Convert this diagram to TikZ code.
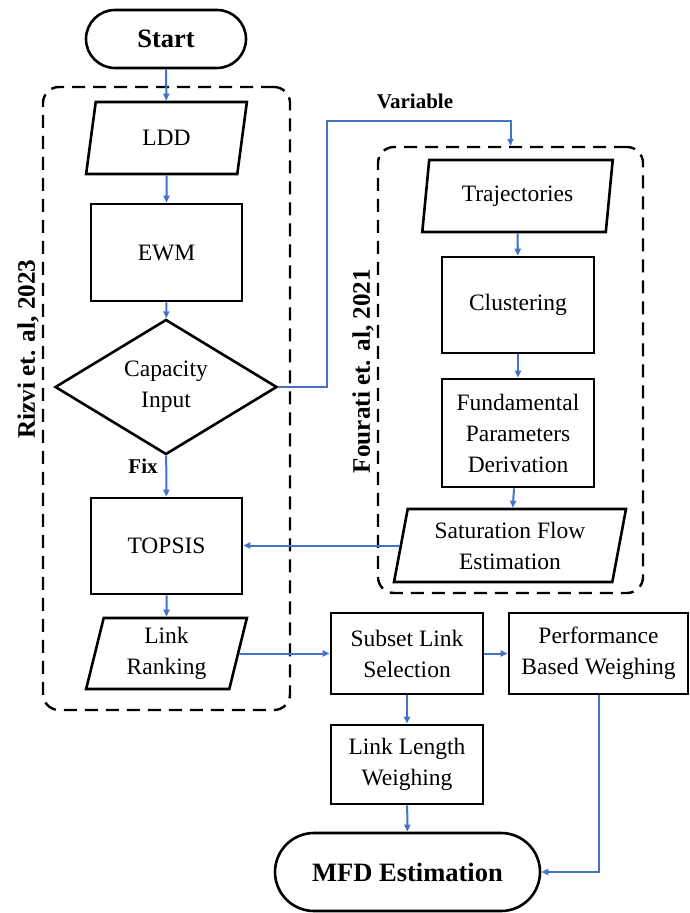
\documentclass[tikz,border=0pt]{standalone}
\usepackage{fontspec}
\setmainfont{Liberation Serif}
\usetikzlibrary{shapes.geometric,shapes.misc,arrows.meta}
\definecolor{flowblue}{RGB}{68,114,196}

\begin{document}
\begin{tikzpicture}[x=0.5pt,y=-0.5pt,
  every node/.style={font=\rmfamily\fontsize{11.75}{15.5}\selectfont, align=center, inner sep=0pt},
  proc/.style={draw, line width=1.3pt, rectangle},
  io/.style={draw, line width=1.3pt, trapezium, trapezium left angle=78,
    trapezium right angle=102, trapezium stretches=true},
  term/.style={draw, line width=1.3pt, rounded rectangle,
    font=\rmfamily\fontsize{13.25}{16}\selectfont\bfseries},
  decide/.style={draw, line width=1.3pt, diamond},
  group/.style={draw, dash pattern=on 6.5pt off 4pt, line width=1.2pt,
    rounded corners=8pt, rectangle},
  flow/.style={draw=flowblue, line width=1pt, -{Triangle[length=3.5pt,width=3pt]}},
  tag/.style={font=\rmfamily\fontsize{10.5}{12}\selectfont\bfseries},
  ref/.style={font=\rmfamily\fontsize{12.6}{14}\selectfont\bfseries, rotate=90}
]
\useasboundingbox[fill=white] (0,0) rectangle (689,913);

% dashed groups for the two methods
\node[group, minimum width=123.5pt, minimum height=311.5pt] (rizvibox) at (166.5,398.5) {};
\node[group, minimum width=132.5pt, minimum height=223pt] (fouratibox) at (510.5,370) {};
\node[ref] (rizvi) at (28,349) {Rizvi et. al, 2023};
\node[ref] (fourati) at (363,371) {Fourati et. al, 2021};

% left column
\node[term, minimum width=80pt, minimum height=29pt] (start) at (166,39) {Start};
\node[io, minimum width=80.5pt, minimum height=36pt] (ldd) at (166.5,138) {LDD};
\node[proc, minimum width=75.5pt, minimum height=48.5pt] (ewm) at (166.5,252.5) {EWM};
\node[decide, minimum width=111pt, minimum height=57pt] (cap) at (166,387) {Capacity\\Input};
\node[proc, minimum width=75.5pt, minimum height=48pt] (topsis) at (166.5,546) {TOPSIS};
\node[io, minimum width=80.5pt, minimum height=35.5pt] (rank) at (166.5,653.5) {Link\\Ranking};

% right column
\node[io, minimum width=95.5pt, minimum height=36pt] (traj) at (517.5,196) {Trajectories};
\node[proc, minimum width=76pt, minimum height=48pt] (clus) at (518,305) {Clustering};
\node[proc, minimum width=76pt, minimum height=54pt] (fund) at (518,433) {Fundamental\\Parameters\\Derivation};
\node[io, minimum width=117pt, minimum height=36.5pt] (sat) at (510,545.5) {Saturation Flow\\Estimation};

% bottom part
\node[proc, minimum width=76pt, minimum height=40.5pt] (subset) at (407,653.5) {Subset Link\\Selection};
\node[proc, minimum width=89.5pt, minimum height=40.5pt] (perf) at (598.5,653.5) {Performance\\Based Weighing};
\node[proc, minimum width=76pt, minimum height=39.5pt] (llw) at (407,764.5) {Link Length\\Weighing};
\node[term, minimum width=132.5pt, minimum height=39pt] (mfd) at (407.5,872) {MFD Estimation};

% labels on branches
\node[tag] (fix) at (143,466) {Fix};
\node[tag] (var) at (415,101) {Variable};
\coordinate (bend) at (327,121);

% connectors
\draw[flow] (start) -- (ldd);
\draw[flow] (ldd) -- (ewm);
\draw[flow] (ewm) -- (cap);
\draw[flow] (cap) -- (topsis);
\draw[flow] (topsis) -- (rank);
\draw[flow] (cap.east) -| (bend) -| (fouratibox.north);
\draw[flow] (traj) -- (clus);
\draw[flow] (clus) -- (fund);
\draw[flow] (fund) -- (sat);
\draw[flow] (sat.west) -- (topsis.east |- sat.west);
\draw[flow] (rank.east) -- (subset.west |- rank.east);
\draw[flow] (subset) -- (perf);
\draw[flow] (subset) -- (llw);
\draw[flow] (llw) -- (mfd);
\draw[flow] (perf.south) |- (mfd.east);
\end{tikzpicture}
\end{document}
